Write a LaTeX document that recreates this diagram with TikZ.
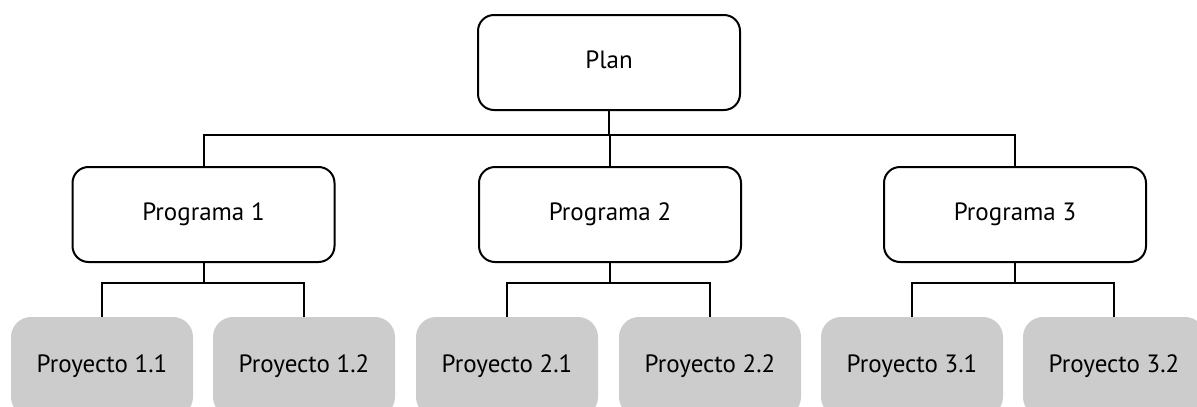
\documentclass[tikz,border=0pt]{standalone}
\usepackage{fontspec}
\setmainfont{PT Sans}
\begin{document}
\begin{tikzpicture}[x=1pt,y=-1pt,
  box/.style={draw=black, line width=2pt, fill=white, rounded corners=16pt,
    minimum width=262pt, minimum height=95pt, inner sep=0pt,
    font=\fontsize{25}{30}\selectfont, text height=16pt, text depth=5pt},
  proj/.style={fill=projgray, rounded corners=20pt,
    minimum width=182pt, minimum height=100pt, inner sep=0pt,
    font=\fontsize{25}{30}\selectfont, text height=16pt, text depth=5pt},
  link/.style={draw=black, line width=2pt}]
\definecolor{projgray}{RGB}{204,204,204}
\useasboundingbox (0,0) rectangle (1197,407);
\clip (0,0) rectangle (1197,407);

% top level
\node[box] (plan) at (609,62.5) {Plan};

% programmes
\node[box] (p1) at (203.5,214.5) {Programa 1};
\node[box] (p2) at (610,214.5) {Programa 2};
\node[box] (p3) at (1015,214.5) {Programa 3};

% projects
\node[proj] (q11) at (102,367) {Proyecto 1.1};
\node[proj] (q12) at (304,367) {Proyecto 1.2};
\node[proj] (q21) at (507,367) {Proyecto 2.1};
\node[proj] (q22) at (710,367) {Proyecto 2.2};
\node[proj] (q31) at (912,367) {Proyecto 3.1};
\node[proj] (q32) at (1114,367) {Proyecto 3.2};

% bus levels
\coordinate (busA) at (0,135);
\coordinate (busB) at (0,283);

% plan to programmes
\draw[link] (plan.south) -- (plan.south |- busA) -| (p1.north);
\draw[link] (plan.south) -- (plan.south |- busA) -| (p3.north);
\draw[link] (plan.south |- busA) -| (p2.north);

% programmes to projects
\foreach \p/\a/\b in {p1/q11/q12, p2/q21/q22, p3/q31/q32}{
  \draw[link] (\p.south) -- (\p.south |- busB) -| (\a.north);
  \draw[link] (\p.south |- busB) -| (\b.north);
}
\end{tikzpicture}
\end{document}
